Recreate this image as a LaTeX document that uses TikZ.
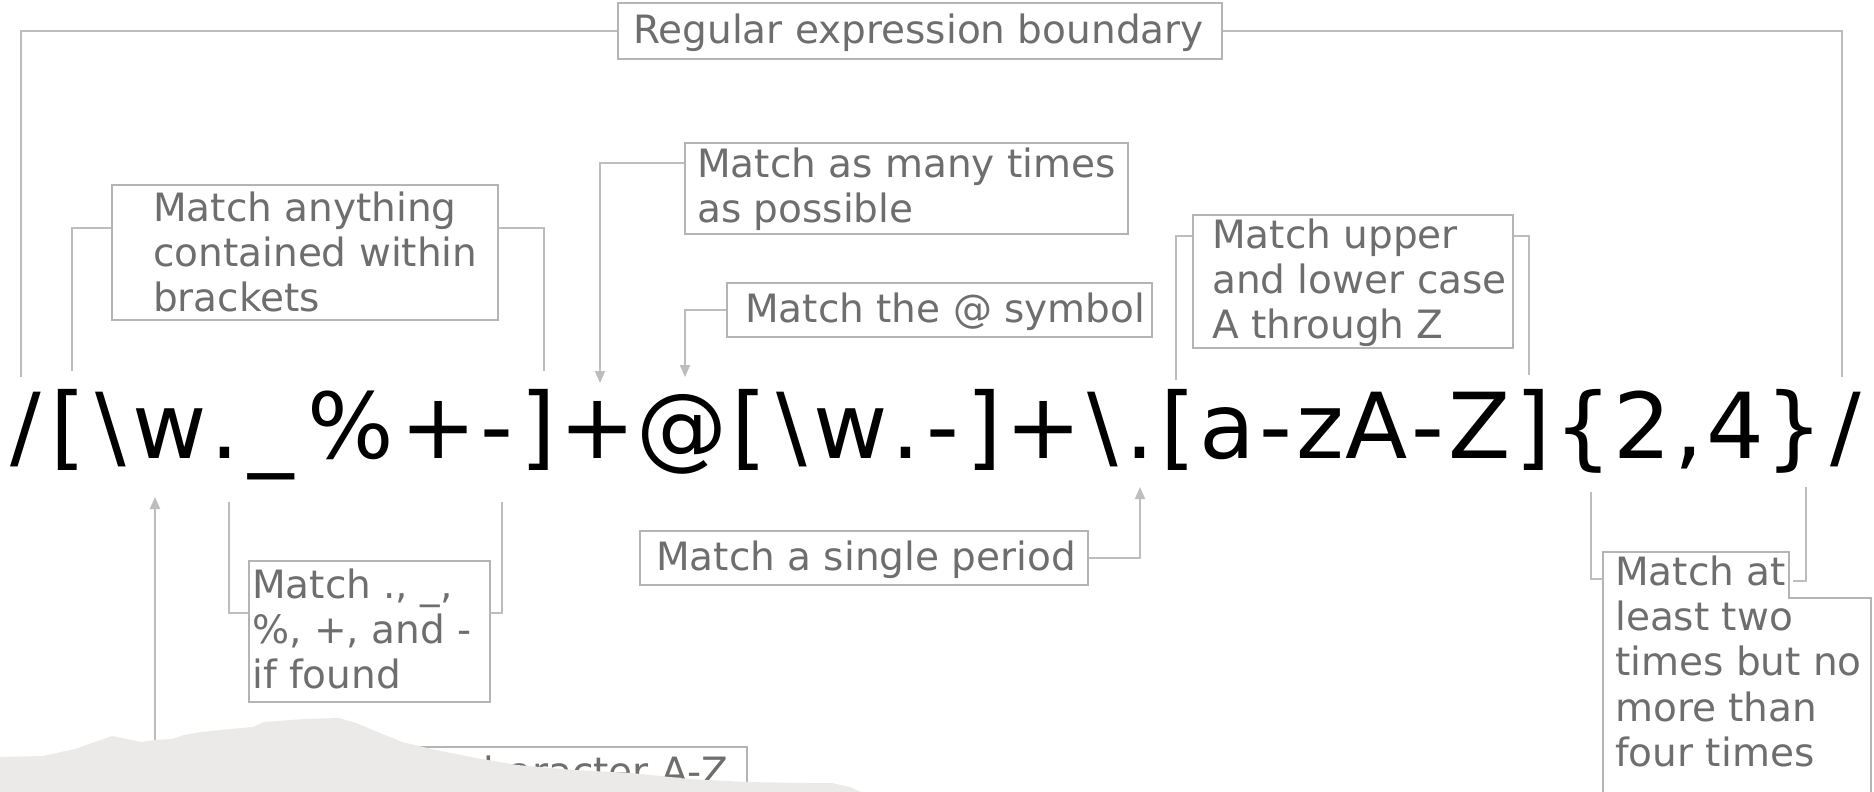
\documentclass[tikz,border=0pt]{standalone}
\usepackage{fontspec}
\usetikzlibrary{arrows.meta,calc}
\newfontfamily\labfont{DejaVu Sans}
\newfontfamily\refont{DejaVu Sans}
\definecolor{txtgray}{HTML}{6E6E6E}
\definecolor{boxgray}{HTML}{B4B4B4}
\definecolor{linegray}{HTML}{BDBDBD}
\definecolor{tornpaper}{HTML}{EBEAE8}
\newdimen\rxunit \rxunit=0.093pt
\newcommand\rxc[2]{\makebox[#1\rxunit][c]{#2}}
\tikzset{
  lblbox/.style={draw=boxgray, line width=1.8pt, inner sep=0pt, anchor=north west},
  lbltext/.style={text=txtgray, font=\labfont\fontsize{39}{45.3}\selectfont, align=left, inner sep=0pt, anchor=north west},
  conn/.style={draw=linegray, line width=1.8pt},
  arr/.style={conn, -{Triangle[length=12pt,width=10pt]}},
}
\begin{document}
\begin{tikzpicture}[x=1pt,y=-1pt]
\useasboundingbox (0,0) rectangle (1874,792);
\clip (0,0) rectangle (1874,792);
\fill[white] (0,0) rectangle (1874,792);

% regex
\node[anchor=base west, inner sep=0pt, font=\refont\fontsize{91}{100}\selectfont] (re) at (5,458)
  {\rxc{454}{/}\rxc{454}{[}\rxc{454}{\textbackslash}\rxc{818}{w}\rxc{364}{.}\rxc{636}{\_}\rxc{1076}{\%}\rxc{818}{+}\rxc{431}{-}\rxc{454}{]}\rxc{818}{+}\rxc{1000}{@}\rxc{454}{[}\rxc{454}{\textbackslash}\rxc{818}{w}\rxc{364}{.}\rxc{431}{-}\rxc{454}{]}\rxc{818}{+}\rxc{454}{\textbackslash}\rxc{364}{.}\rxc{454}{[}\rxc{601}{a}\rxc{431}{-}\rxc{525}{z}\rxc{684}{A}\rxc{431}{-}\rxc{685}{Z}\rxc{454}{]}\rxc{636}{\{}\rxc{636}{2}\rxc{364}{,}\rxc{636}{4}\rxc{636}{\}}\rxc{454}{/}};

% target coordinates on the regex
\coordinate (slashL) at (21,377);
\coordinate (slashR) at (1842,377);
\coordinate (brL) at (72,371);
\coordinate (brR) at (544,371);
\coordinate (plusTip) at (600,383);
\coordinate (atTip) at (685,377);
\coordinate (azL) at (1176,380);
\coordinate (azR) at (1529,375);
\coordinate (dotL) at (229,502);
\coordinate (dotR) at (502,502);
\coordinate (perTip) at (1140,487);
\coordinate (quL) at (1591,492);
\coordinate (quR) at (1806,487);
\coordinate (wTip) at (155,497);

% boxes
\node[lblbox, minimum width=604pt, minimum height=56pt] (bBnd) at (617,2) {};
\node[lbltext] (tBnd) at (633,11.3) {\strut Regular expression boundary};

\node[lblbox, minimum width=386pt, minimum height=135pt] (bAny) at (111,184) {};
\node[lbltext] (tAny) at (153,189.3) {\strut Match anything\\contained within\\brackets};

\node[lblbox, minimum width=443pt, minimum height=91pt] (bMany) at (684,142) {};
\node[lbltext] (tMany) at (697,145.3) {\strut Match as many times\\as possible};

\node[lblbox, minimum width=425pt, minimum height=54pt] (bAt) at (726,282) {};
\node[lbltext] (tAt) at (745,290.3) {\strut Match the @ symbol};

\node[lblbox, minimum width=320pt, minimum height=133pt] (bAz) at (1192,214) {};
\node[lbltext] (tAz) at (1212,216.3) {\strut Match upper\\and lower case\\A through Z};

\node[lblbox, minimum width=241pt, minimum height=141pt] (bDot) at (248,560) {};
\node[lbltext] (tDot) at (252,566.3) {\strut Match ., \_,\\\%, +, and -\\if found};

\node[lblbox, minimum width=448pt, minimum height=54pt] (bPer) at (639,530) {};
\node[lbltext] (tPer) at (656,538.3) {\strut Match a single period};

\node[lblbox, minimum width=446pt, minimum height=90pt] (bChar) at (300,746) {};
\node[lbltext] (tChar) at (462,753.3) {\strut character A-Z};

% quantifier box with a tab
\draw[boxgray, line width=1.8pt] (1603,800) -- (1603,552) -- (1789,552) -- (1789,598) -- (1871,598) -- (1871,800);
\node[lbltext] (tQu) at (1615,553.3) {\strut Match at\\least two\\times but no\\more than\\four times};
\coordinate (quBoxL) at (1603,579);
\coordinate (quBoxR) at (1793,581);

% connectors
\draw[conn] (bBnd.west) -| (slashL);
\draw[conn] (bBnd.east) -| (slashR);
\draw[conn] ($(bAny.north west)+(0,44)$) -| (brL);
\draw[conn] ($(bAny.north east)+(0,44)$) -| (brR);
\draw[arr] ($(bMany.north west)+(0,21)$) -| (plusTip);
\draw[arr] (bAt.west) -| (atTip);
\draw[conn] ($(bAz.north west)+(0,22)$) -| (azL);
\draw[conn] ($(bAz.north east)+(0,22)$) -| (azR);
\draw[conn] (dotL) |- ($(bDot.north west)+(0,53)$);
\draw[conn] (dotR) |- ($(bDot.north east)+(0,53)$);
\draw[arr] (bPer.east) -| (perTip);
\draw[conn] (quL) |- (quBoxL);
\draw[conn] (quR) |- (quBoxR);
\draw[arr] (bChar.west) -| (wTip);

% torn paper
\fill[tornpaper] (0,757) -- (43,756) -- (75,749) -- (112,736) -- (141,742) -- (155,740) -- (172,739)
  -- (184,735) -- (201,732) -- (212,731) -- (230,729) -- (253,727) -- (264,722) -- (304,719)
  -- (339,718) -- (356,723) -- (402,742) -- (436,750) -- (476,758) -- (517,765) -- (574,770)
  -- (631,773) -- (689,779) -- (746,782) -- (804,783) -- (832,783) -- (850,787) -- (861,792)
  -- (861,800) -- (0,800) -- cycle;
\end{tikzpicture}
\end{document}
